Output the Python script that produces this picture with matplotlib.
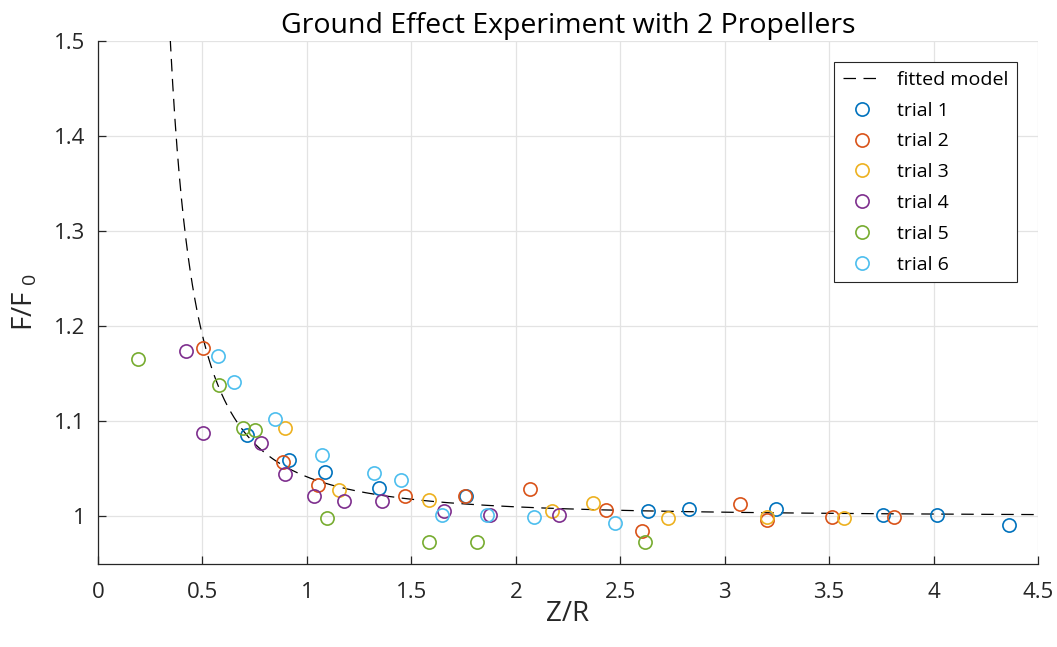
import numpy as np
import matplotlib
matplotlib.use('Agg')
import matplotlib.pyplot as plt
from matplotlib.ticker import FuncFormatter

plt.rcParams['font.family'] = ['Open Sans', 'DejaVu Sans']
plt.rcParams['mathtext.fontset'] = 'custom'
plt.rcParams['mathtext.rm'] = 'Open Sans'

# measured points, Z/R and F/F0 for each trial
trial1_x = [0.715, 0.916, 1.088, 1.344, 1.762, 2.633, 2.827, 3.247, 3.756, 4.018, 4.362]
trial1_y = [1.086, 1.059, 1.047, 1.030, 1.021, 1.006, 1.008, 1.008, 1.001, 1.001, 0.991]
trial2_x = [0.504, 0.887, 1.052, 1.471, 1.757, 2.069, 2.430, 2.603, 3.073, 3.201, 3.515, 3.809]
trial2_y = [1.177, 1.057, 1.033, 1.022, 1.022, 1.029, 1.007, 0.985, 1.013, 0.996, 0.999, 0.999]
trial3_x = [0.894, 1.155, 1.584, 2.175, 2.370, 2.730, 3.201, 3.570]
trial3_y = [1.093, 1.028, 1.0175, 1.006, 1.014, 0.998, 0.999, 0.998]
trial4_x = [0.421, 0.504, 0.782, 0.895, 1.036, 1.179, 1.358, 1.658, 1.875, 2.207]
trial4_y = [1.174, 1.088, 1.077, 1.045, 1.021, 1.016, 1.016, 1.006, 1.001, 1.001]
trial5_x = [0.19, 0.581, 0.693, 0.752, 1.096, 1.584, 1.816, 2.617]
trial5_y = [1.166, 1.138, 1.093, 1.091, 0.998, 0.973, 0.973, 0.973]
trial6_x = [0.573, 0.653, 0.849, 1.074, 1.321, 1.449, 1.645, 1.862, 2.086, 2.476]
trial6_y = [1.169, 1.141, 1.102, 1.065, 1.046, 1.038, 1.001, 1.001, 0.999, 0.993]

trials_x = [trial1_x, trial2_x, trial3_x, trial4_x, trial5_x, trial6_x]
trials_y = [trial1_y, trial2_y, trial3_y, trial4_y, trial5_y, trial6_y]
labels = ['trial 1', 'trial 2', 'trial 3', 'trial 4', 'trial 5', 'trial 6']
colors = ['#0072BD', '#D95319', '#EDB120', '#7E2F8E', '#77AC30', '#4DBEEE']

# fitted model F/F0 = 1 / (1 - k (R/4Z)^2)
k_fit = 0.64


def model(zr):
    return 1.0 / (1.0 - k_fit * (1.0 / (4.0 * zr)) ** 2)


def fmt(v, pos):
    return '%g' % round(v, 3)


fig = plt.figure(figsize=(10.57, 6.47), dpi=100)
ax = fig.add_axes([0.0927, 0.1283, 0.8893, 0.8083])

zz = np.linspace(0.3, 4.5, 800)
ax.plot(zz, model(zz), '--', color='k', lw=0.9, dashes=(10, 6), label='fitted model')
for xs, ys, lab, c in zip(trials_x, trials_y, labels, colors):
    ax.plot(xs, ys, 'o', mfc='none', mec=c, ms=9.5, mew=1.2, label=lab)

ax.set_xlim(0, 4.5)
ax.set_ylim(0.95, 1.5)
ax.set_xticks(np.arange(0, 4.51, 0.5))
ax.set_yticks(np.arange(1.0, 1.51, 0.1))
ax.xaxis.set_major_formatter(FuncFormatter(fmt))
ax.yaxis.set_major_formatter(FuncFormatter(fmt))
ax.grid(True, color='#e3e3e3', lw=0.9)
ax.set_axisbelow(True)
for s in ['top', 'right']:
    ax.spines[s].set_visible(False)
for s in ['left', 'bottom']:
    ax.spines[s].set_color('#262626')
    ax.spines[s].set_linewidth(0.9)
ax.tick_params(direction='in', length=6, width=0.9, colors='#262626', labelsize=16)
ax.tick_params(axis='x', pad=13)
ax.tick_params(axis='y', pad=9)

ax.set_title('Ground Effect Experiment with 2 Propellers', fontsize=20.5, pad=6)
ax.set_xlabel('Z/R', fontsize=20, color='#262626', labelpad=-2)
ax.set_ylabel(r'F/F$_{\ 0}$', fontsize=20, color='#262626', labelpad=11)

leg = ax.legend(loc='upper right', fontsize=14, frameon=True, fancybox=False,
                edgecolor='#262626', framealpha=1, handlelength=2.0,
                labelspacing=0.66, borderpad=0.45, borderaxespad=0,
                bbox_to_anchor=(0.978, 0.96))
leg.get_frame().set_linewidth(0.8)

fig.savefig('out.png', dpi=100)
